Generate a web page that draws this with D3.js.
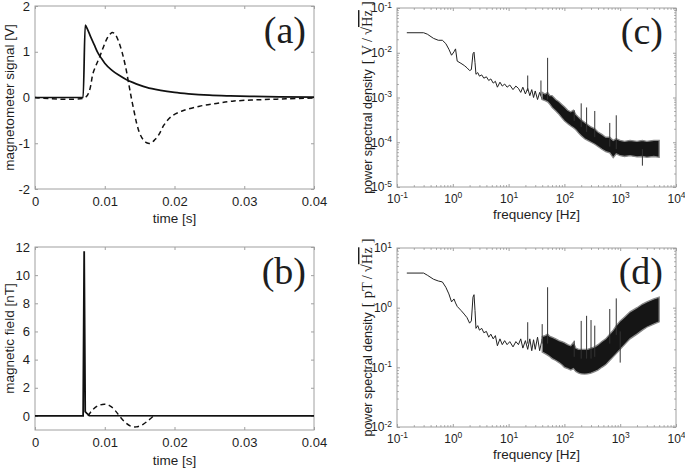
<!DOCTYPE html>
<html>
<head>
<meta charset="utf-8">
<script src="https://cdn.jsdelivr.net/npm/d3@7"></script>
<style>
  body { margin: 0; background: #fff; }
  text { font-family: "Liberation Sans", Arial, sans-serif; fill: #1e1e1e; }
</style>
</head>
<body>
<svg id="chart"></svg>
<script>
let width = 685;
let height = 469;

// ---- panel (a): magnetometer signal ----
let timeA = [0, 0.0069, 0.0072, 0.0075, 0.008, 0.0085, 0.009, 0.0095, 0.010, 0.011, 0.012, 0.013,
             0.014, 0.015, 0.016, 0.018, 0.020, 0.022, 0.025, 0.028, 0.031, 0.035, 0.04];
let signalA = [0, 0, 1.58, 1.50, 1.32, 1.15, 0.98, 0.86, 0.75, 0.60, 0.49, 0.40,
               0.33, 0.27, 0.22, 0.155, 0.11, 0.08, 0.05, 0.035, 0.025, 0.015, 0.01];
let timeDashA = [0, 0.0072, 0.0078, 0.0083, 0.0088, 0.0093, 0.0098, 0.0103, 0.0108, 0.0111, 0.0115,
                 0.012, 0.0125, 0.013, 0.0135, 0.0138, 0.0142, 0.0146, 0.015, 0.0155, 0.016, 0.0166,
                 0.0172, 0.0178, 0.0185, 0.0195, 0.021, 0.0236, 0.026, 0.0283, 0.032, 0.036, 0.04];
let signalDashA = [0, 0, 0.15, 0.52, 0.72, 0.90, 1.10, 1.28, 1.39, 1.42, 1.38,
                   1.22, 0.98, 0.66, 0.25, 0.0, -0.30, -0.58, -0.78, -0.92, -0.99, -1.0,
                   -0.92, -0.80, -0.60, -0.42, -0.30, -0.19, -0.13, -0.08, -0.05, -0.03, -0.01];

// ---- panel (b): magnetic field ----
let timeB = [0, 0.0069, 0.00705, 0.0072, 0.0074, 0.0078, 0.04];
let fieldB = [0, 0, 11.7, 0.3, 0.2, 0.02, 0];
let timeDashB = [0.0076, 0.0082, 0.009, 0.0100, 0.0108, 0.0115, 0.0121, 0.0128, 0.0137, 0.0145,
                 0.0155, 0.0163, 0.017];
let fieldDashB = [0, 0.4, 0.72, 0.83, 0.7, 0.38, 0, -0.4, -0.72, -0.78, -0.6, -0.3, 0];

// ---- spectra: low-frequency trace (shared frequencies) ----
let freqLow = [0.15, 0.3, 0.35, 0.45, 0.55, 0.65, 0.75, 0.85, 0.95, 1.05, 1.12, 1.2, 1.4, 1.6, 1.8,
               2.0, 2.15, 2.3, 2.4, 2.5, 2.6, 2.8, 3.0, 3.3, 3.6, 4.0, 4.4, 4.8, 5.3, 5.8, 6.3, 7.0,
               7.7, 8.5, 9.4, 10.5, 12, 13.5, 15, 16.5, 18, 20, 22, 24, 26, 28, 30, 33, 36, 40, 44];

// ---- panel (c): PSD of signal, V/sqrt(Hz) ----
let psdLowC = [0.028, 0.028, 0.026, 0.021, 0.019, 0.019, 0.016, 0.012, 0.0088, 0.0105, 0.0122, 0.0065,
               0.0058, 0.0052, 0.0046, 0.0040, 0.0042, 0.0095, 0.0103, 0.0060, 0.0033, 0.0036, 0.0030,
               0.0032, 0.0027, 0.0029, 0.0024, 0.0026, 0.0021, 0.0023, 0.0017, 0.0022, 0.0018, 0.0020,
               0.0017, 0.0019, 0.0015, 0.0018, 0.0016, 0.0013, 0.0017, 0.0012, 0.0016, 0.0011, 0.0015,
               0.0010, 0.0014, 0.0009, 0.0013, 0.0009, 0.0012];
let bandFreq = [40, 45, 50, 55, 60, 70, 80, 90, 100, 115, 130, 145, 160, 180, 200, 230, 260, 300, 350,
                400, 470, 550, 650, 750, 850, 1000, 1200, 1500, 2000, 2500, 3000, 4000, 5000];
let bandHiC = [0.0013, 0.0012, 0.0013, 0.0011, 0.0011, 0.0009, 0.0008, 0.0007, 0.00062, 0.00052,
               0.00048, 0.00052, 0.00042, 0.00036, 0.00032, 0.00028, 0.00025, 0.00022, 0.0002,
               0.00017, 0.00015, 0.00013, 0.00013, 0.00011, 0.00012, 0.00011, 0.000105, 0.00011,
               0.000105, 0.00011, 0.000105, 0.00011, 0.00011];
let bandLoC = [0.0009, 0.00085, 0.0008, 0.0007, 0.0006, 0.0005, 0.00042, 0.00035, 0.0003, 0.00026,
               0.00023, 0.00021, 0.00019, 0.00016, 0.00014, 0.00012, 0.00011, 0.0001, 0.00009,
               0.00008, 0.00007, 0.000062, 0.000058, 0.000045, 0.000055, 0.00005, 0.000048, 0.00005,
               0.000047, 0.000048, 0.000046, 0.000048, 0.000046];
let spikeFreqC = [22, 38, 50, 150, 200, 250, 350, 650, 850, 2500];
let spikeBaseC = [0.0014, 0.0011, 0.0009, 0.0003, 0.00022, 0.00017, 0.00013, 0.00008, 0.00007, 0.00007];
let spikeTopC = [0.0031, 0.0024, 0.0077, 0.00052, 0.00074, 0.0006, 0.0005, 0.00027, 0.0004, 0.00003];

// ---- panel (d): PSD of field, pT/sqrt(Hz) ----
let psdLowD = [3.8, 3.8, 3.5, 3.0, 2.8, 2.7, 2.2, 1.7, 1.25, 1.4, 1.2, 1.05, 0.9, 0.78, 0.68,
               0.55, 0.6, 1.5, 1.65, 0.9, 0.45, 0.5, 0.42, 0.45, 0.38, 0.40, 0.32, 0.36, 0.30, 0.34,
               0.23, 0.30, 0.24, 0.28, 0.24, 0.27, 0.22, 0.27, 0.24, 0.30, 0.21, 0.28, 0.20, 0.30,
               0.19, 0.29, 0.20, 0.32, 0.19, 0.30, 0.18];
let bandHiD = [0.33, 0.34, 0.36, 0.33, 0.32, 0.3, 0.28, 0.27, 0.26, 0.24, 0.23, 0.26, 0.21, 0.2,
               0.2, 0.2, 0.2, 0.21, 0.22, 0.24, 0.27, 0.3, 0.36, 0.42, 0.5, 0.6, 0.7, 0.85, 1.0,
               1.15, 1.25, 1.4, 1.5];
let bandLoD = [0.18, 0.17, 0.16, 0.15, 0.14, 0.13, 0.12, 0.11, 0.10, 0.095, 0.09, 0.095, 0.085,
               0.08, 0.078, 0.077, 0.078, 0.08, 0.085, 0.09, 0.1, 0.11, 0.13, 0.15, 0.17, 0.2,
               0.24, 0.3, 0.36, 0.42, 0.47, 0.53, 0.58];
let spikeFreqD = [22, 40, 50, 150, 200, 250, 300, 350, 650, 850, 1000];
let spikeBaseD = [0.25, 0.25, 0.25, 0.15, 0.14, 0.14, 0.14, 0.15, 0.25, 0.35, 0.4];
let spikeTopD = [0.57, 0.53, 2.2, 0.28, 0.6, 0.73, 0.62, 0.5, 0.95, 1.43, 0.12];

let linTicksT = [0, 0.01, 0.02, 0.03, 0.04];
let ticksA = [-2, -1, 0, 1, 2];
let ticksB = [0, 2, 4, 6, 8, 10, 12];
let decadesF = [1e-1, 1e0, 1e1, 1e2, 1e3, 1e4];
let decadesC = [1e-5, 1e-4, 1e-3, 1e-2, 1e-1];
let decadesD = [1e-2, 1e-1, 1e0, 1e1];

let boxA = {left: 35, right: 314, top: 6, bottom: 189};
let boxB = {left: 35, right: 314, top: 247, bottom: 430};
let boxC = {left: 397, right: 676, top: 8, bottom: 187};
let boxD = {left: 397, right: 676, top: 248, bottom: 427};

let frameColor = '#a0a0a0';

let svg = d3.select('#chart')
            .attr('width', width)
            .attr('height', height);

function minorsOf(decades) {
  let out = [];
  for (let i = 0; i < decades.length - 1; i++) {
    for (let k = 2; k <= 9; k++) out.push(decades[i] * k);
  }
  return out;
}

function styleAxis(g, size) {
  g.select('.domain').remove();
  g.selectAll('.tick line').attr('stroke', frameColor);
  g.selectAll('.tick text')
    .attr('font-family', '"Liberation Sans", Arial, sans-serif')
    .attr('font-size', size)
    .attr('fill', '#1e1e1e');
  g.attr('font-size', null).attr('font-family', null);
}

function powerLabels(g) {
  g.selectAll('.tick text').each(function(d) {
    let t = d3.select(this).text('10');
    t.append('tspan')
      .attr('dy', '-0.55em')
      .attr('font-size', '8.5px')
      .text(Math.round(Math.log10(d)));
  });
}

function drawFrame(box, x, y, xVals, yVals, xFmt, yFmt, logScale) {
  let g = svg.append('g');
  let tick = 3;
  let sides = [
    [d3.axisBottom(x).tickValues(xVals), `translate(0, ${box.bottom})`, true, 'x'],
    [d3.axisTop(x).tickValues(xVals), `translate(0, ${box.top})`, false, 'x'],
    [d3.axisLeft(y).tickValues(yVals), `translate(${box.left}, 0)`, true, 'y'],
    [d3.axisRight(y).tickValues(yVals), `translate(${box.right}, 0)`, false, 'y']
  ];
  sides.forEach(([axis, tr, labelled, dim]) => {
    axis.tickSizeInner(-tick).tickSizeOuter(0)
        .tickPadding(dim === 'x' ? (logScale ? 7 : 8) : 5)
        .tickFormat(labelled ? (dim === 'x' ? xFmt : yFmt) : () => '');
    let a = g.append('g').attr('transform', tr).call(axis);
    styleAxis(a, logScale ? 12 : 13);
    if (labelled && logScale) powerLabels(a);
  });
  if (logScale) {
    let xm = minorsOf(xVals), ym = minorsOf(yVals);
    [
      [d3.axisBottom(x).tickValues(xm), `translate(0, ${box.bottom})`],
      [d3.axisTop(x).tickValues(xm), `translate(0, ${box.top})`],
      [d3.axisLeft(y).tickValues(ym), `translate(${box.left}, 0)`],
      [d3.axisRight(y).tickValues(ym), `translate(${box.right}, 0)`]
    ].forEach(([axis, tr]) => {
      let a = g.append('g').attr('transform', tr)
        .call(axis.tickSizeInner(-1.8).tickSizeOuter(0).tickFormat(() => ''));
      styleAxis(a, 12);
    });
  }
  g.append('rect')
    .attr('x', box.left).attr('y', box.top)
    .attr('width', box.right - box.left).attr('height', box.bottom - box.top)
    .attr('fill', 'none').attr('stroke', frameColor).attr('stroke-width', 1);
  return g;
}

function panelLabel(text, xPos, yPos) {
  svg.append('text')
    .attr('x', xPos).attr('y', yPos)
    .attr('text-anchor', 'end')
    .style('font-family', '"Liberation Serif", "Times New Roman", serif')
    .attr('font-size', 38)
    .attr('fill', '#1a1a1a')
    .text(text);
}

function xTitle(text, box, yPos) {
  svg.append('text')
    .attr('x', (box.left + box.right) / 2).attr('y', yPos)
    .attr('text-anchor', 'middle')
    .attr('font-size', 13.5)
    .text(text);
}

let linFmtT = d => d === 0 ? '0' : d.toFixed(2);
let plainFmt = d => String(d);

// ---------- panel (a) ----------
let xA = d3.scaleLinear().domain([0, 0.04]).range([boxA.left, boxA.right]);
let yA = d3.scaleLinear().domain([-2, 2]).range([boxA.bottom, boxA.top]);
drawFrame(boxA, xA, yA, linTicksT, ticksA, linFmtT, plainFmt, false);

svg.append('path')
  .datum(d3.zip(timeA, signalA))
  .attr('d', d3.line().x(d => xA(d[0])).y(d => yA(d[1])).curve(d3.curveMonotoneX))
  .attr('fill', 'none').attr('stroke', '#111').attr('stroke-width', 1.7);
svg.append('path')
  .datum(d3.zip(timeDashA, signalDashA))
  .attr('d', d3.line().x(d => xA(d[0])).y(d => yA(d[1])).curve(d3.curveCatmullRom))
  .attr('fill', 'none').attr('stroke', '#111').attr('stroke-width', 1.5)
  .attr('stroke-dasharray', '5,3.5');

xTitle('time [s]', boxA, 223);
svg.append('text')
  .attr('transform', `translate(14, ${(boxA.top + boxA.bottom) / 2}) rotate(-90)`)
  .attr('text-anchor', 'middle').attr('font-size', 13.5)
  .text('magnetometer signal [V]');
panelLabel('(a)', 306, 43);

// ---------- panel (b) ----------
let xB = d3.scaleLinear().domain([0, 0.04]).range([boxB.left, boxB.right]);
let yB = d3.scaleLinear().domain([-1, 12]).range([boxB.bottom, boxB.top]);
drawFrame(boxB, xB, yB, linTicksT, ticksB, linFmtT, plainFmt, false);

svg.append('path')
  .datum(d3.zip(timeDashB, fieldDashB))
  .attr('d', d3.line().x(d => xB(d[0])).y(d => yB(d[1])).curve(d3.curveCatmullRom))
  .attr('fill', 'none').attr('stroke', '#111').attr('stroke-width', 1.4)
  .attr('stroke-dasharray', '5,3.5');
svg.append('path')
  .datum(d3.zip(timeB, fieldB))
  .attr('d', d3.line().x(d => xB(d[0])).y(d => yB(d[1])))
  .attr('fill', 'none').attr('stroke', '#111').attr('stroke-width', 1.8);

xTitle('time [s]', boxB, 465);
svg.append('text')
  .attr('transform', `translate(14, ${(boxB.top + boxB.bottom) / 2}) rotate(-90)`)
  .attr('text-anchor', 'middle').attr('font-size', 13.5)
  .text('magnetic field [nT]');
panelLabel('(b)', 306, 284);

// ---------- spectra ----------
function drawSpectrum(box, yDom, yDecades, low, bandHi, bandLo, spF, spB, spT) {
  let x = d3.scaleLog().domain([0.1, 1e4]).range([box.left, box.right]);
  let y = d3.scaleLog().domain(yDom).range([box.bottom, box.top]);
  drawFrame(box, x, y, decadesF, yDecades, null, null, true);

  svg.append('path')
    .datum(d3.zip(freqLow, low))
    .attr('d', d3.line().x(d => x(d[0])).y(d => y(d[1])))
    .attr('fill', 'none').attr('stroke', '#222').attr('stroke-width', 1);

  svg.append('path')
    .datum(d3.zip(bandFreq, bandHi, bandLo))
    .attr('d', d3.area().x(d => x(d[0])).y0(d => y(d[2])).y1(d => y(d[1])))
    .attr('fill', '#151515').attr('stroke', '#888').attr('stroke-width', 1.3);

  svg.selectAll(null)
    .data(d3.zip(spF, spB, spT))
    .enter()
    .append('line')
      .attr('x1', d => x(d[0])).attr('x2', d => x(d[0]))
      .attr('y1', d => y(d[1])).attr('y2', d => y(d[2]))
      .attr('stroke', '#333').attr('stroke-width', 1);
}

function psdTitle(box, unit) {
  let serif = '"Liberation Serif", "Times New Roman", serif';
  let t = svg.append('text')
    .attr('transform', `translate(372, ${(box.top + box.bottom) / 2}) rotate(-90)`)
    .attr('text-anchor', 'middle').attr('font-size', 12.5);
  t.append('tspan').text('power spectral density');
  t.append('tspan').attr('dx', 5).style('font-family', serif).attr('font-size', 14.5).text('[');
  t.append('tspan').attr('dx', 4).style('font-family', serif).attr('font-size', 14.5).text(unit);
  t.append('tspan').attr('dx', 3).style('font-family', serif).attr('font-size', 14.5).text('/');
  t.append('tspan').attr('dx', 3).style('font-family', serif).attr('font-size', 14.5).text('\u221A');
  t.append('tspan').style('font-family', serif).attr('font-size', 14.5)
    .style('text-decoration', 'overline').text('Hz');
  t.append('tspan').attr('dx', 4).style('font-family', serif).attr('font-size', 14.5).text(']');
}

drawSpectrum(boxC, [1e-5, 1e-1], decadesC, psdLowC, bandHiC, bandLoC,
             spikeFreqC, spikeBaseC, spikeTopC);
xTitle('frequency [Hz]', boxC, 219);
psdTitle(boxC, 'V');
panelLabel('(c)', 663, 44);

drawSpectrum(boxD, [1e-2, 1e1], decadesD, psdLowD, bandHiD, bandLoD,
             spikeFreqD, spikeBaseD, spikeTopD);
xTitle('frequency [Hz]', boxD, 459);
psdTitle(boxD, 'pT');
panelLabel('(d)', 663, 284);
</script>
</body>
</html>
